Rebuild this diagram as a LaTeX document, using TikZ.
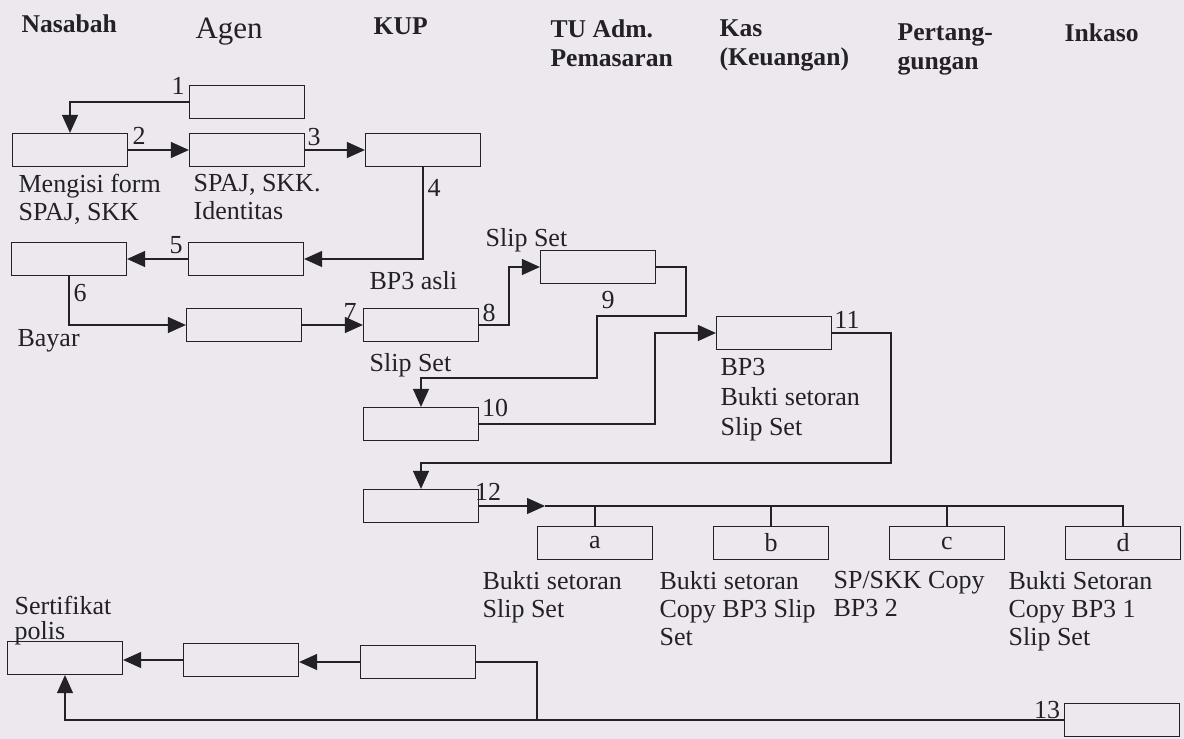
\documentclass[tikz,border=0pt]{standalone}
\usepackage{fontspec}
\setmainfont{Liberation Serif}
\usetikzlibrary{arrows.meta}
\definecolor{paper}{RGB}{236,232,238}
\definecolor{ink}{RGB}{35,32,38}
\tikzset{
  box/.style={draw=ink, minimum width=57.5pt, minimum height=16.5pt, inner sep=0pt,
    font=\fontsize{13}{14}\selectfont},
  flow/.style={-{Triangle[length=9pt,width=8pt]}},
  lbl/.style={anchor=north west, align=left, inner sep=0pt, font=\fontsize{13}{14}\selectfont},
  num/.style={inner sep=0pt, font=\fontsize{13}{14}\selectfont},
  head/.style={anchor=north west, align=left, inner sep=0pt, font=\fontsize{12.8}{14.5}\selectfont\bfseries},
}
\begin{document}
\begin{tikzpicture}[x=0.5pt, y=-0.5pt, color=ink, line width=0.6pt]
  \fill[paper] (0,0) rectangle (1184,739);
  \useasboundingbox (0,0) rectangle (1184,739);
  % === Headers ===
  \node[head] (hNas) at (21,14) {Nasabah};
  \node[head, font=\fontsize{15.5}{17}\selectfont] (hAgen) at (195,17) {Agen};
  \node[head] (hKup) at (373,17) {KUP};
  \node[head] (hTu) at (550,19) {TU Adm.\\Pemasaran};
  \node[head] (hKas) at (719,19) {Kas\\(Keuangan)};
  \node[head] (hPert) at (897,23) {Pertang-\\gungan};
  \node[head] (hInk) at (1064,23) {Inkaso};
  % === Boxes ===
  \node[box] (b1) at (247,102) {};
  \node[box] (b2) at (70,150) {};
  \node[box] (b3) at (247,150) {};
  \node[box] (b4) at (423,150) {};
  \node[box] (b5) at (69,259) {};
  \node[box] (b6) at (246,259) {};
  \node[box] (b7) at (244,325) {};
  \node[box] (b9) at (421,325) {};
  \node[box] (b8) at (598,267) {};
  \node[box] (b10) at (421,424) {};
  \node[box] (b11) at (774,333) {};
  \node[box] (b12) at (421,506) {};
  \node[box] (ba) at (595,543) {a};
  \node[box] (bb) at (771,543) {b};
  \node[box] (bc) at (947,543) {c};
  \node[box] (bd) at (1123,543) {d};
  \node[box] (bs) at (65,658) {};
  \node[box] (ba2) at (241,660) {};
  \node[box] (bk2) at (418,662) {};
  \node[box] (b13) at (1122,720) {};
  % === Labels ===
  \node[lbl] (tForm) at (18,174) {Mengisi form\\SPAJ, SKK};
  \node[lbl] (tSpaj) at (193,174) {SPAJ, SKK.\\Identitas};
  \node[lbl] (tAsli) at (369,271) {BP3 asli};
  \node[lbl] (tBayar) at (17,329) {Bayar};
  \node[lbl] (tSlipA) at (485,228) {Slip Set};
  \node[lbl] (tSlipB) at (369,353) {Slip Set};
  \node[lbl, font=\fontsize{13}{15}\selectfont] (tBp3) at (720,358) {BP3\\Bukti setoran\\Slip Set};
  \node[lbl] (ta) at (482,571) {Bukti setoran\\Slip Set};
  \node[lbl] (tb) at (659,571) {Bukti setoran\\Copy BP3 Slip\\Set};
  \node[lbl] (tc) at (833,571) {SP/SKK Copy\\BP3 2};
  \node[lbl] (td) at (1008,571) {Bukti Setoran\\Copy BP3 1\\Slip Set};
  \node[lbl, font=\fontsize{13}{12.5}\selectfont] (tSert) at (14,596) {Sertifikat\\polis};
  % === Step numbers ===
  \node[num] (n1) at (178,86) {1};
  \node[num] (n2) at (139,136) {2};
  \node[num] (n3) at (314,137) {3};
  \node[num] (n4) at (434,188) {4};
  \node[num] (n5) at (176,245) {5};
  \node[num] (n6) at (80,293) {6};
  \node[num] (n7) at (350,312) {7};
  \node[num] (n8) at (489,313) {8};
  \node[num] (n9) at (608,300) {9};
  \node[num] (n10) at (495,408) {10};
  \node[num] (n11) at (847,320) {11};
  \node[num] (n12) at (488,492) {12};
  \node[num] (n13) at (1047,710) {13};
  % === Flow lines ===
  \draw[flow] (b1.west) -| (b2.north);
  \draw[flow] (b2.east) -- (b3.west);
  \draw[flow] (b3.east) -- (b4.west);
  \draw[flow] (b4.south) |- (b6.east);
  \draw[flow] (b6.west) -- (b5.east);
  \draw[flow] (b5.south) |- (b7.west);
  \draw[flow] (b7.east) -- (b9.west);
  \draw[flow] (b9.east) -- (509,325) |- (b8.west);
  \draw[flow] (b8.east) -| (686,316) -| (597,378) -| (b10.north);
  \draw[flow] (b10.east) -- (655,424) |- (b11.west);
  \draw[flow] (b11.east) -| (891,463) -| (b12.north);
  % distribution a-d
  \coordinate (bus) at (545,506);
  \draw[flow] (b12.east) -- (bus);
  \draw (bus) -| (bd.north);
  \foreach \k in {ba,bb,bc}
    \draw (\k.north) -- (\k.north |- bus);
  % back to Nasabah
  \draw[flow] (bk2.west) -- (bk2.west -| ba2.east);
  \draw[flow] (ba2.west) -- (ba2.west -| bs.east);
  \coordinate (join) at (537,720);
  \draw (bk2.east) -| (join);
  \draw[flow] (b13.west) -| (bs.south);
\end{tikzpicture}
\end{document}
